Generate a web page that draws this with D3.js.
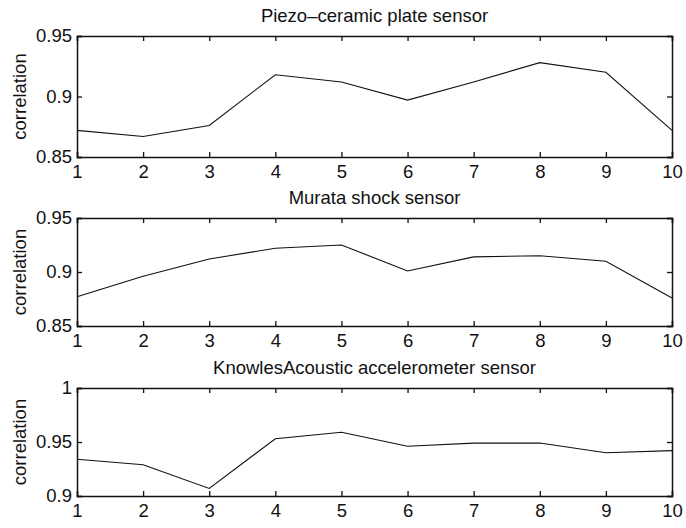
<!DOCTYPE html>
<html>
<head>
<meta charset="utf-8">
<script src="https://cdn.jsdelivr.net/npm/d3@7"></script>
<style>
    body { margin: 0; background: #fff; }
    svg text { font-family: "Liberation Sans", Arial, sans-serif; fill: #111; }
</style>
</head>
<body>
<div id="chart"></div>
<script>
// Data
var sensorIdx = [1, 2, 3, 4, 5, 6, 7, 8, 9, 10];
var titles = ['Piezo\u2013ceramic plate sensor', 'Murata shock sensor', 'KnowlesAcoustic accelerometer sensor'];
var piezoValues = [0.872, 0.867, 0.876, 0.918, 0.912, 0.897, 0.912, 0.928, 0.920, 0.872];
var murataValues = [0.877, 0.896, 0.912, 0.922, 0.925, 0.901, 0.914, 0.915, 0.910, 0.876];
var knowlesValues = [0.934, 0.929, 0.907, 0.953, 0.959, 0.946, 0.949, 0.949, 0.940, 0.942];
var yDomains = [[0.85, 0.95], [0.85, 0.95], [0.9, 1]];
var yTicks = [[0.85, 0.9, 0.95], [0.85, 0.9, 0.95], [0.9, 0.95, 1]];

var width = 686, height = 528;
var left = 77, right = 672;
// panel top/bottom in pixels
var panels = [
    {top: 36, bottom: 157},
    {top: 218, bottom: 326},
    {top: 388, bottom: 496}
];
var series = [piezoValues, murataValues, knowlesValues];

var svg = d3.select('#chart').append('svg')
    .attr('width', width)
    .attr('height', height);

var fmt = function(d) { return String(+d.toFixed(2)); };

panels.forEach(function(p, i) {
    var x = d3.scaleLinear().domain([1, 10]).range([left, right]);
    var y = d3.scaleLinear().domain(yDomains[i]).range([p.bottom, p.top]);
    var g = svg.append('g');

    // Axes with inward ticks (matlab style)
    var xb = d3.axisBottom(x).tickValues(sensorIdx).tickSize(-5).tickPadding(8).tickFormat(d3.format('d'));
    var xt = d3.axisTop(x).tickValues(sensorIdx).tickSize(-5).tickFormat('');
    var yl = d3.axisLeft(y).tickValues(yTicks[i]).tickSize(-5).tickPadding(5).tickFormat(fmt);
    var yr = d3.axisRight(y).tickValues(yTicks[i]).tickSize(-5).tickFormat('');

    g.append('g').attr('transform', 'translate(0,' + p.bottom + ')').call(xb);
    g.append('g').attr('transform', 'translate(0,' + p.top + ')').call(xt);
    g.append('g').attr('transform', 'translate(' + left + ',0)').call(yl);
    g.append('g').attr('transform', 'translate(' + right + ',0)').call(yr);

    g.selectAll('.domain').attr('stroke', '#111').attr('stroke-width', 1.5);
    g.selectAll('.tick line').attr('stroke', '#111').attr('stroke-width', 1.3);
    g.selectAll('.tick text').style('font-size', '18.5px').attr('fill', '#111');

    // Line
    var line = d3.line()
        .x(function(d, j) { return x(sensorIdx[j]); })
        .y(function(d) { return y(d); });
    g.append('path')
        .datum(series[i])
        .attr('d', line)
        .attr('fill', 'none')
        .attr('stroke', '#111')
        .attr('stroke-width', 1.1);

    // Title
    g.append('text')
        .attr('x', (left + right) / 2)
        .attr('y', p.top - 14)
        .attr('text-anchor', 'middle')
        .style('font-size', '18.5px')
        .text(titles[i]);

    // Y label
    g.append('text')
        .attr('transform', 'translate(26,' + ((p.top + p.bottom) / 2) + ') rotate(-90)')
        .attr('text-anchor', 'middle')
        .style('font-size', '18.5px')
        .text('correlation');
});
</script>
</body>
</html>
